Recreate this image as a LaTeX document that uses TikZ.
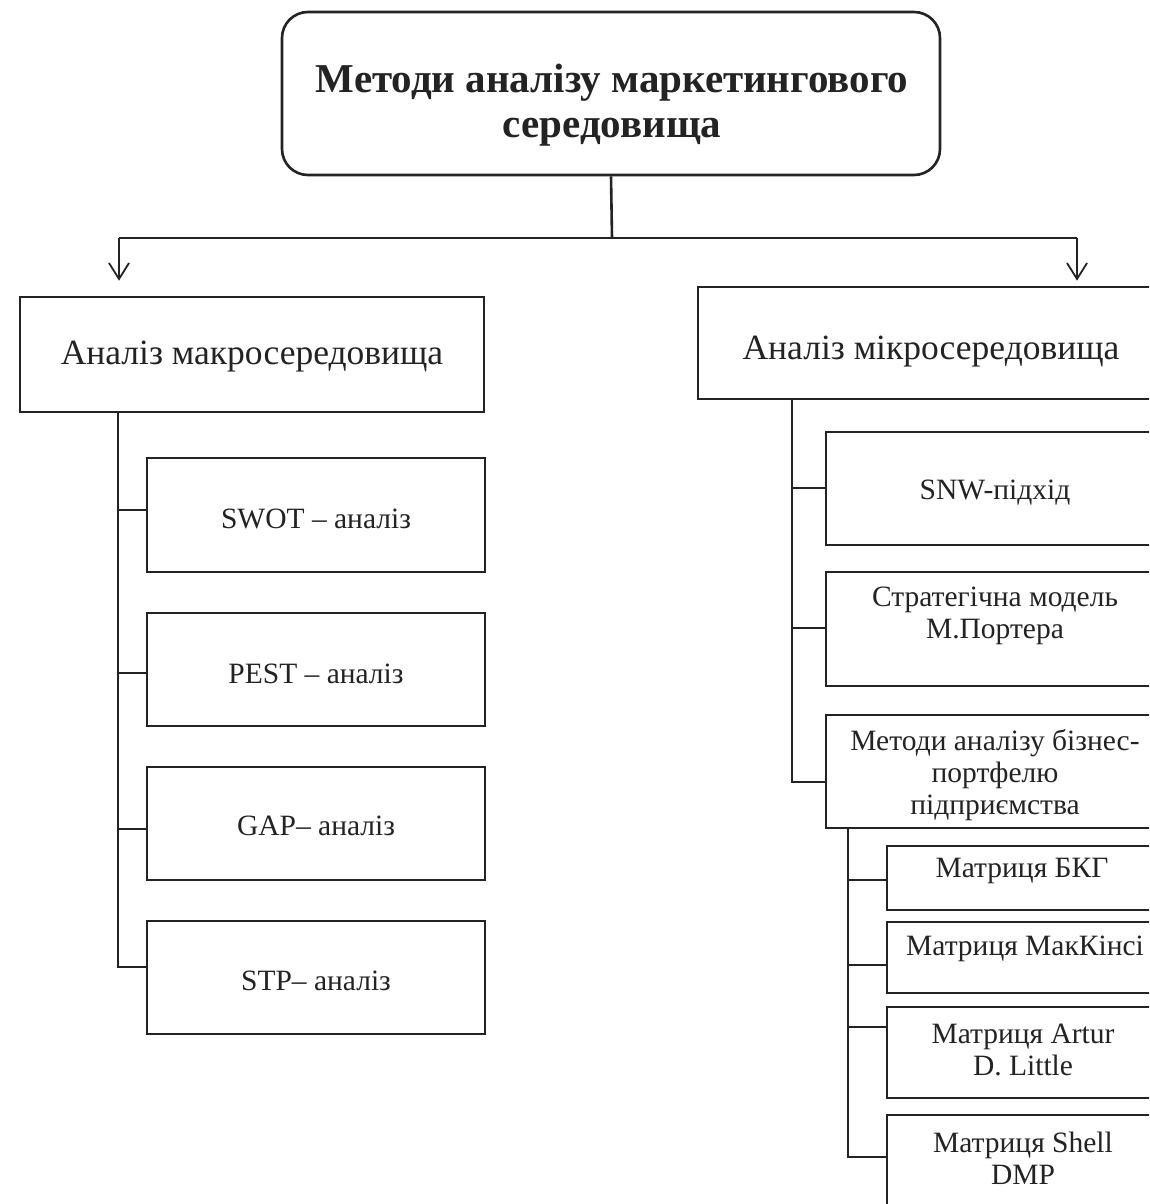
\documentclass[tikz,border=0pt]{standalone}
\usepackage{fontspec}
\setmainfont{Liberation Serif}
\usetikzlibrary{arrows.meta}
\definecolor{ink}{RGB}{35,35,35}
\begin{document}
\begin{tikzpicture}[x=1pt,y=-1pt,
  box/.style={draw=ink,line width=2.6pt,inner sep=0pt,rectangle},
  ln/.style={draw=ink,line width=2.6pt},
  arr/.style={draw=ink,line width=1.8pt,-{Straight Barb[length=16pt,width=20pt,line width=1.8pt]}},
  txt/.style={align=center,font=\fontsize{29.5}{32}\selectfont,text=ink},
  txtb/.style={align=center,font=\fontsize{35.5}{40}\selectfont,text=ink}]
\useasboundingbox (0,0) rectangle (1149,1204);
\clip (0,0) rectangle (1149,1204);
\fill[white] (0,0) rectangle (1149,1204);
% boxes
\node[box,rounded corners=26pt,minimum width=658pt,minimum height=163pt] (top) at (611,93.5) {};
\node[box,minimum width=464pt,minimum height=115pt] (macro) at (252,354.5) {};
\node[box,minimum width=472pt,minimum height=112pt] (micro) at (934,343) {};
\node[box,minimum width=338pt,minimum height=114pt] (swot) at (316,515) {};
\node[box,minimum width=338pt,minimum height=113pt] (pest) at (316,669.5) {};
\node[box,minimum width=338pt,minimum height=113pt] (gap) at (316,823.5) {};
\node[box,minimum width=338pt,minimum height=113pt] (stp) at (316,977.5) {};
\node[box,minimum width=339pt,minimum height=113pt] (snw) at (995.5,488.5) {};
\node[box,minimum width=339pt,minimum height=114pt] (strat) at (995.5,629) {};
\node[box,minimum width=339pt,minimum height=113pt] (meth) at (995.5,771.5) {};
\node[box,minimum width=273pt,minimum height=64pt] (bkg) at (1023.5,878) {};
\node[box,minimum width=273pt,minimum height=71pt] (mck) at (1023.5,957.5) {};
\node[box,minimum width=273pt,minimum height=91pt] (adl) at (1023.5,1052.5) {};
\node[box,minimum width=273pt,minimum height=95pt] (shell) at (1023.5,1162.5) {};
% texts
\node[align=center,font=\fontsize{41}{45}\selectfont\bfseries,text=ink] (ttop) at (612,105) {Методи аналізу маркетингового\\середовища};
\node[txtb] (tmacro) at (252,357) {Аналіз макросередовища};
\node[txtb] (tmicro) at (931,352) {Аналіз мікросередовища};
\node[txt] (tswot) at (316,519) {SWOT – аналіз};
\node[txt] (tpest) at (316,674) {PEST – аналіз};
\node[txt] (tgap) at (316,826) {GAP– аналіз};
\node[txt] (tstp) at (316,981) {STP– аналіз};
\node[txt] (tsnw) at (995,493) {SNW-підхід};
\node[txt] (tstrat) at (995,616) {Стратегічна модель\\М.Портера};
\node[txt] (tmeth) at (995,775) {Методи аналізу бізнес-\\портфелю\\підприємства};
\node[txt] (tbkg) at (1022,871) {Матриця БКГ};
\node[txt] (tmck) at (1025,949) {Матриця МакКінсі};
\node[txt] (tadl) at (1023,1050) {Матриця Artur\\D. Little};
\node[txt] (tshell) at (1023,1158) {Матриця Shell\\DMP};
% connectors
\coordinate (j) at (612,238);
\coordinate (aL) at (119,238);
\coordinate (aR) at (1077,238);
\draw[ln] (top.south) -- (j);
\draw[ln] (aL) -- (aR);
\draw[arr,shorten >=15pt] (aL) -- (macro.north -| aL);
\draw[arr,shorten >=5pt] (aR) -- (micro.north -| aR);
% left trunk
\coordinate (lt) at (118,0);
\draw[ln] (macro.south -| lt) -- (lt |- 0,967) -- (stp.west |- 0,967);
\draw[ln] (lt |- 0,510) -- (swot.west |- 0,510);
\draw[ln] (lt |- 0,673) -- (pest.west |- 0,673);
\draw[ln] (lt |- 0,829) -- (gap.west |- 0,829);
% right trunk
\coordinate (rt) at (792,0);
\draw[ln] (micro.south -| rt) -- (rt |- 0,782) -- (meth.west |- 0,782);
\draw[ln] (rt |- 0,488) -- (snw.west |- 0,488);
\draw[ln] (rt |- 0,628) -- (strat.west |- 0,628);
% sub trunk
\coordinate (st) at (848,0);
\draw[ln] (meth.south -| st) -- (st |- 0,1157) -- (shell.west |- 0,1157);
\draw[ln] (st |- 0,880) -- (bkg.west |- 0,880);
\draw[ln] (st |- 0,965) -- (mck.west |- 0,965);
\draw[ln] (st |- 0,1027) -- (adl.west |- 0,1027);
\end{tikzpicture}
\end{document}
